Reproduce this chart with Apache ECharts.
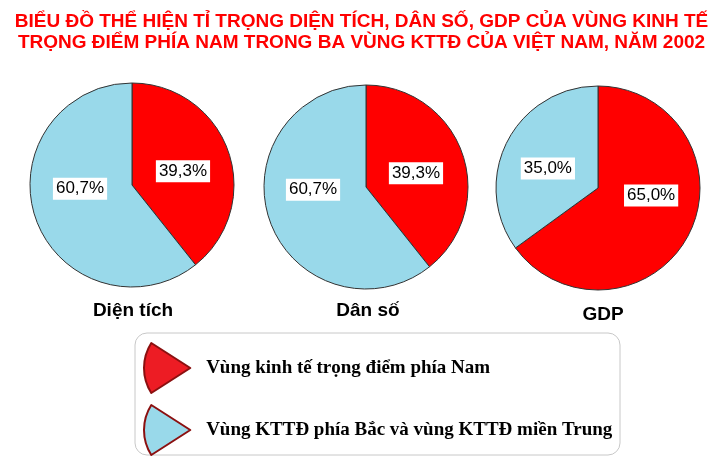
<!DOCTYPE html>
<html>
<head>
<meta charset="utf-8">
<script src="https://cdn.jsdelivr.net/npm/echarts@6/dist/echarts.min.js"></script>
<style>html,body{margin:0;padding:0;background:#fff;}#c{width:723px;height:466px;}</style>
</head>
<body>
<div id="c"></div>
<script>
var titleLines = ['BIỂU ĐỒ THỂ HIỆN TỈ TRỌNG DIỆN TÍCH, DÂN SỐ, GDP CỦA VÙNG KINH TẾ', 'TRỌNG ĐIỂM PHÍA NAM TRONG BA VÙNG KTTĐ CỦA VIỆT NAM, NĂM 2002'];
var seriesNames = ['Vùng kinh tế trọng điểm phía Nam', 'Vùng KTTĐ phía Bắc và vùng KTTĐ miền Trung'];
var categories = ['Diện tích', 'Dân số', 'GDP'];
var southValues = [39.3, 39.3, 65.0];
var otherValues = [60.7, 60.7, 35.0];

var centers = [[132, 185], [366, 187], [598, 188]];
var captionPos = [[133, 301], [368, 301], [603, 305]];
var labelShift = [[[0, 4], [-1, -14]], [[-1, 4], [-2, -15]], [[5, -17], [-2, 5]]];
var sliceColors = ['#FF0000', '#99D9EA'];
var legendColors = ['#ED1C24', '#99D9EA'];

var chart = echarts.init(document.getElementById('c'));
var series = categories.map(function (cat, i) {
  return {
    type: 'pie',
    name: cat,
    center: centers[i],
    radius: 102,
    startAngle: 90,
    clockwise: true,
    silent: true,
    animation: false,
    itemStyle: { borderColor: '#333', borderWidth: 1 },
    label: {
      show: true,
      position: 'inner',
      formatter: function (p) { return p.value.toFixed(1).replace('.', ',') + '%'; },
      color: '#000',
      fontFamily: 'Liberation Sans',
      fontSize: 17,
      backgroundColor: '#fff',
      padding: [3, 3, 2, 3]
    },
    labelLayout: function (p) {
      var s = labelShift[i][p.dataIndex];
      return { dx: s[0], dy: s[1] };
    },
    labelLine: { show: false },
    data: [
      { name: seriesNames[0], value: southValues[i], itemStyle: { color: sliceColors[0] } },
      { name: seriesNames[1], value: otherValues[i], itemStyle: { color: sliceColors[1] } }
    ]
  };
});

var sectorIcon = 'path://M100,50 L22,0 A93,93 0 0 0 22,100 Z';

var option = {
  backgroundColor: '#fff',
  animation: false,
  title: [
    {
      text: titleLines.join('\n'),
      left: 'center',
      top: 11,
      padding: 0,
      textStyle: { color: '#FF0000', fontFamily: 'Liberation Sans', fontWeight: 'bold', fontSize: 19, lineHeight: 21 }
    }
  ].concat(categories.map(function (cat, i) {
    return {
      text: cat,
      left: captionPos[i][0],
      top: captionPos[i][1],
      textAlign: 'center',
      padding: 0,
      textStyle: { color: '#000', fontFamily: 'Liberation Sans', fontWeight: 'bold', fontSize: 19 }
    };
  })),
  graphic: [
    {
      type: 'rect',
      shape: { x: 135, y: 333, width: 485, height: 122, r: 12 },
      style: { fill: '#fff', stroke: '#C8C8C8', lineWidth: 1 },
      z: -1,
      silent: true
    }
  ],
  legend: {
    orient: 'vertical',
    left: 143,
    top: 342,
    padding: 0,
    itemWidth: 56,
    itemHeight: 50,
    itemGap: 10,
    selectedMode: false,
    textStyle: { color: '#000', fontFamily: 'Liberation Serif', fontWeight: 'bold', fontSize: 19, padding: [0, 0, 8, 6] },
    data: seriesNames.map(function (n, i) {
      return { name: n, icon: sectorIcon, itemStyle: { color: legendColors[i], borderColor: '#8B1010', borderWidth: 2 } };
    })
  },
  series: series
};
chart.setOption(option);
</script>
</body>
</html>
